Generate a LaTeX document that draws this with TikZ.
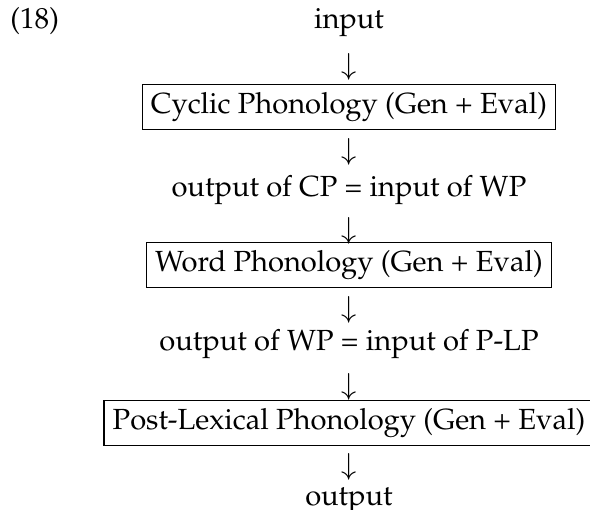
\documentclass[tikz,border=0pt]{standalone}
\usepackage[T1]{fontenc}
\usepackage{mathpazo}
\usetikzlibrary{positioning}

\begin{document}
\begin{tikzpicture}[
  lbl/.style={inner sep=0pt, font=\normalsize},
  box/.style={draw, inner xsep=3pt, inner ysep=2.6pt, minimum height=15.4pt, line width=0.4pt, font=\normalsize},
  dn/.style={inner sep=0pt},
  on grid
]
\useasboundingbox (0,0) rectangle (202.7pt,-174.9pt);

\node[lbl] (input) at (119.9pt,-7.6pt) {input};
\node[dn, below=15.5pt of input] (d1) {$\downarrow$};
\node[box, below=13.7pt of d1] (cp) {Cyclic Phonology (Gen + Eval)};
\node[dn, below=15.5pt of cp] (d2) {$\downarrow$};
\node[lbl, below=12.9pt of d2] (outcp) {output of CP = input of WP};
\node[dn, below=14.1pt of outcp] (d3) {$\downarrow$};
\node[box, below=11.7pt of d3] (wp) {Word Phonology (Gen + Eval)};
\node[dn, below=15.6pt of wp] (d4) {$\downarrow$};
\node[lbl, below=11.6pt of d4] (outwp) {output of WP = input of P-LP};
\node[dn, below=14.6pt of outwp] (d5) {$\downarrow$};
\node[box, below=12.6pt of d5] (plp) {Post-Lexical Phonology (Gen + Eval)};
\node[dn, below=15.1pt of plp] (d6) {$\downarrow$};
\node[lbl, below=11.4pt of d6] (output) {output};

\node[lbl, anchor=base west] (exno) at ([xshift=3.4pt]input.base -| 0,0) {(18)};
\end{tikzpicture}
\end{document}
